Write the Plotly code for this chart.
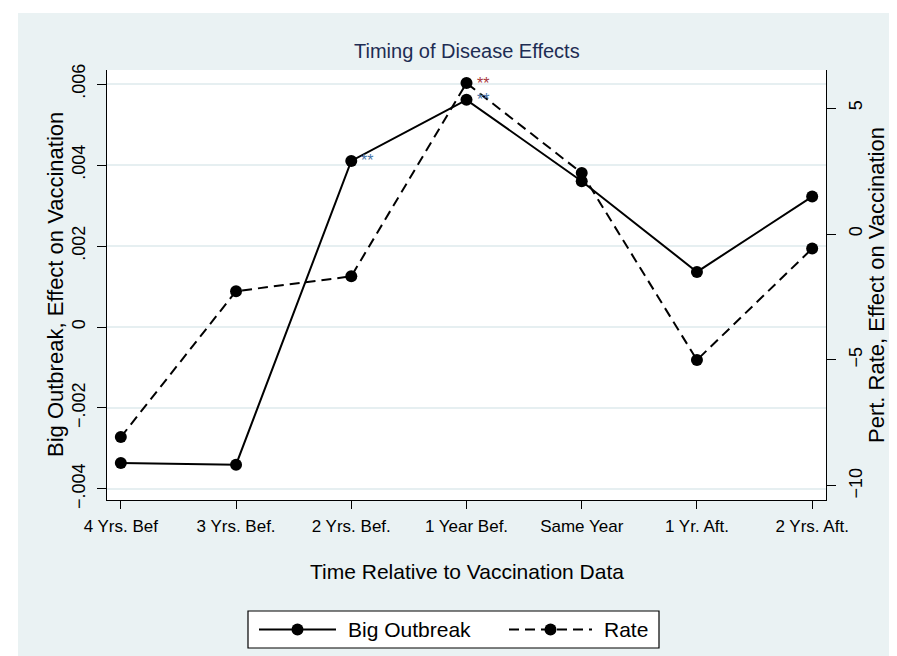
import plotly.graph_objects as go

categories = ["4 Yrs. Bef", "3 Yrs. Bef.", "2 Yrs. Bef.", "1 Year Bef.", "Same Year", "1 Yr. Aft.", "2 Yrs. Aft."]
big_outbreak = [-0.00336, -0.00340, 0.00410, 0.00561, 0.00360, 0.00136, 0.00322]
rate = [-8.06, -2.27, -1.68, 5.99, 2.42, -5.00, -0.58]
big_stars = ["", "", "**", "**", "", "", ""]
rate_stars = ["", "", "", "**", "", "", ""]
left_ticks = [-0.004, -0.002, 0, 0.002, 0.004, 0.006]
left_ticktext = ["\u2212.004", "\u2212.002", "0", ".002", ".004", ".006"]
right_ticks = [-10, -5, 0, 5]
right_ticktext = ["\u221210", "\u22125", "0", "5"]

W, H = 897, 656
L, R, T, B = 99, 818, 62, 492
FONT = "Liberation Sans"
BG = "#EAF2F3"
TXT = 21

def px(x):
    return (x - L) / (R - L)

def py(y):
    return (B - y) / (B - T)

xs = list(range(len(categories)))

fig = go.Figure()
fig.add_trace(go.Scatter(x=xs, y=big_outbreak, mode="lines+markers", name="Big Outbreak",
                         line=dict(color="black", width=2),
                         marker=dict(color="black", size=12), yaxis="y"))
fig.add_trace(go.Scatter(x=xs, y=rate, mode="lines+markers", name="Rate",
                         line=dict(color="black", width=2, dash="10px,6px"),
                         marker=dict(color="black", size=12), yaxis="y2"))

annotations = []
for i, s in enumerate(big_stars):
    if s:
        annotations.append(dict(x=xs[i], y=big_outbreak[i], xref="x", yref="y", text=s,
                                showarrow=False, xanchor="left", yanchor="middle",
                                xshift=8, yshift=0, font=dict(family=FONT, size=16, color="#4A74A8")))
for i, s in enumerate(rate_stars):
    if s:
        annotations.append(dict(x=xs[i], y=rate[i], xref="x", yref="y2", text=s,
                                showarrow=False, xanchor="left", yanchor="middle",
                                xshift=8, yshift=0, font=dict(family=FONT, size=16, color="#A8383B")))

# titles
annotations.append(dict(x=0.5, y=1, xref="paper", yref="paper", text="Timing of Disease Effects",
                        showarrow=False, xanchor="center", yanchor="middle", yshift=T - 43,
                        font=dict(family=FONT, size=20, color="#1E2D53")))
annotations.append(dict(x=0, y=0.5, xref="paper", yref="paper", text="Big Outbreak, Effect on Vaccination",
                        showarrow=False, xanchor="center", yanchor="middle", xshift=47 - L, textangle=-90,
                        font=dict(family=FONT, size=22, color="black")))
annotations.append(dict(x=1, y=0.5, xref="paper", yref="paper", text="Pert. Rate, Effect on Vaccination",
                        showarrow=False, xanchor="center", yanchor="middle", xshift=868 - R, textangle=-90,
                        font=dict(family=FONT, size=22, color="black")))
annotations.append(dict(x=0.5, y=0, xref="paper", yref="paper", text="Time Relative to Vaccination Data",
                        showarrow=False, xanchor="center", yanchor="middle", yshift=B - 563,
                        font=dict(family=FONT, size=TXT, color="black")))
# legend texts
LY = 621.5
annotations.append(dict(x=px(338), y=py(LY), xref="paper", yref="paper", text="Big Outbreak",
                        showarrow=False, xanchor="left", yanchor="middle",
                        font=dict(family=FONT, size=TXT, color="black")))
annotations.append(dict(x=px(594), y=py(LY), xref="paper", yref="paper", text="Rate",
                        showarrow=False, xanchor="left", yanchor="middle",
                        font=dict(family=FONT, size=TXT, color="black")))

shapes = [
    dict(type="rect", xref="paper", yref="paper", x0=px(10), x1=px(887), y0=py(648), y1=py(5),
         fillcolor=BG, line=dict(width=0), layer="below"),
    dict(type="rect", xref="paper", yref="paper", x0=0, x1=1, y0=0, y1=1,
         fillcolor="white", line=dict(width=0), layer="below"),
    # legend box
    dict(type="rect", xref="paper", yref="paper", x0=px(240), x1=px(651), y0=py(640), y1=py(603),
         fillcolor="white", line=dict(color="black", width=1.2), layer="above"),
    dict(type="line", xref="paper", yref="paper", x0=px(251), x1=px(328), y0=py(LY), y1=py(LY),
         line=dict(color="black", width=2)),
    dict(type="circle", xref="paper", yref="paper", x0=px(283.5), x1=px(295.5), y0=py(LY + 6), y1=py(LY - 6),
         fillcolor="black", line=dict(color="black", width=0)),
    dict(type="line", xref="paper", yref="paper", x0=px(501), x1=px(584), y0=py(LY), y1=py(LY),
         line=dict(color="black", width=2, dash="10px,6px")),
    dict(type="circle", xref="paper", yref="paper", x0=px(536.5), x1=px(548.5), y0=py(LY + 6), y1=py(LY - 6),
         fillcolor="black", line=dict(color="black", width=0)),
]

fig.update_layout(
    width=W, height=H,
    margin=dict(l=L, r=W - R, t=T, b=H - B, pad=0),
    paper_bgcolor="white", plot_bgcolor="white",
    showlegend=False,
    font=dict(family=FONT, color="black"),
    xaxis=dict(range=[-0.12, 6.12], tickvals=xs, ticktext=categories, showgrid=False, zeroline=False,
               showline=True, linecolor="black", linewidth=1.3, ticks="outside", ticklen=8,
               tickcolor="black", tickwidth=1.3, ticklabelstandoff=2,
               tickfont=dict(family=FONT, size=17, color="black")),
    yaxis=dict(range=[-0.004272, 0.006346], tickvals=left_ticks, ticktext=left_ticktext,
               showgrid=True, gridcolor="#E6EFF1", gridwidth=1.5, zeroline=False,
               showline=True, linecolor="black", linewidth=1.3, ticks="outside", ticklen=9,
               tickcolor="black", tickwidth=1.3, tickangle=-90, ticklabelstandoff=5,
               tickfont=dict(family=FONT, size=18, color="black")),
    yaxis2=dict(range=[-10.556, 6.508], tickvals=right_ticks, ticktext=right_ticktext,
                overlaying="y", side="right", showgrid=False, zeroline=False,
                showline=True, linecolor="black", linewidth=1.3, ticks="outside", ticklen=9,
                tickcolor="black", tickwidth=1.3, tickangle=-90, ticklabelstandoff=4,
                tickfont=dict(family=FONT, size=18, color="black")),
    annotations=annotations,
    shapes=shapes,
)

fig.write_html("out.html")
